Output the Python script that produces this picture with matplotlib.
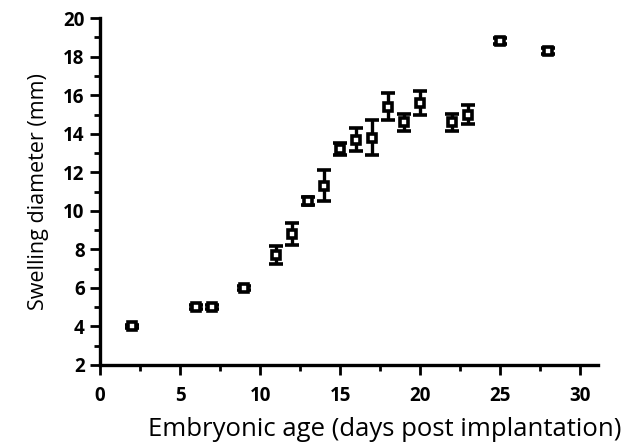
import numpy as np
import matplotlib
matplotlib.use("Agg")
import matplotlib.pyplot as plt
from matplotlib.ticker import MultipleLocator

# data
age = [2, 6, 7, 9, 11, 12, 13, 14, 15, 16, 17, 18, 19, 20, 22, 23, 25, 28]
diam = [4.0, 5.0, 5.0, 6.0, 7.7, 8.8, 10.5, 11.3, 13.2, 13.7, 13.8, 15.4, 14.6, 15.6, 14.6, 15.0, 18.8, 18.3]
err = [0.1, 0.1, 0.1, 0.1, 0.45, 0.55, 0.2, 0.8, 0.3, 0.6, 0.9, 0.7, 0.45, 0.6, 0.45, 0.5, 0.15, 0.15]

plt.rcParams['font.family'] = ['Open Sans', 'DejaVu Sans']

fig = plt.figure(figsize=(6.41, 4.44), dpi=100)
ax = fig.add_axes([0.156, 0.178, 0.777, 0.781])

ax.errorbar(age, diam, yerr=err, fmt='s', ms=6, mfc='white', mec='black', mew=2.6,
            ecolor='black', elinewidth=2.4, capsize=5, capthick=2.6)

ax.set_xlim(0, 31.1)
ax.set_ylim(2, 20)
ax.xaxis.set_major_locator(MultipleLocator(5))
ax.xaxis.set_minor_locator(MultipleLocator(2.5))
ax.yaxis.set_major_locator(MultipleLocator(2))
ax.yaxis.set_minor_locator(MultipleLocator(1))

for s in ['top', 'right']:
    ax.spines[s].set_visible(False)
for s in ['left', 'bottom']:
    ax.spines[s].set_linewidth(2.4)

ax.tick_params(which='major', direction='out', length=7, width=2, labelsize=13.5, pad=4)
ax.tick_params(which='minor', direction='out', length=4, width=2)
ax.tick_params(axis='x', pad=8)
for lbl in ax.get_xticklabels() + ax.get_yticklabels():
    lbl.set_fontweight('bold')

ax.set_xlabel('Embryonic age (days post implantation)', fontsize=18.5)
ax.xaxis.set_label_coords(0.572, -0.15)
ax.set_ylabel('Swelling diameter (mm)', fontsize=15.5, labelpad=10)

fig.savefig('out.png', dpi=100)
